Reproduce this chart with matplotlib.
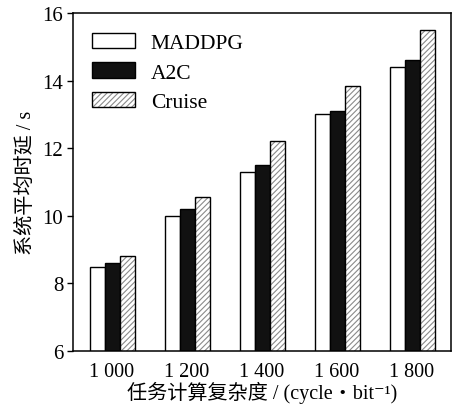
import matplotlib
matplotlib.use("Agg")
import matplotlib.pyplot as plt
import numpy as np
from matplotlib.patches import Patch

# task complexity groups and mean system delay for each method
complexity = ["1 000", "1 200", "1 400", "1 600", "1 800"]
maddpg = [8.5, 10.0, 11.3, 13.0, 14.4]
a2c = [8.6, 10.2, 11.5, 13.1, 14.6]
cruise = [8.8, 10.55, 12.2, 13.85, 15.5]

plt.rcParams["font.family"] = ["Liberation Serif", "Noto Sans CJK SC", "DejaVu Serif"]
plt.rcParams["hatch.linewidth"] = 0.8

fig = plt.figure(figsize=(4.54, 4.10), dpi=100)
ax = fig.add_axes([73 / 454, 1 - 352 / 410, 378 / 454, 338 / 410])

x = np.arange(len(complexity))
w = 0.2
ax.bar(x - w, maddpg, w, color="white", edgecolor="black", linewidth=1.0)
ax.bar(x, a2c, w, color="#111111", edgecolor="black", linewidth=1.0)
# hatched bars: gray diagonal fill, then a black outline on top
ax.bar(x + w, cruise, w, color="white", edgecolor="#8a8a8a", hatch="//////", linewidth=0)
ax.bar(x + w, cruise, w, fill=False, edgecolor="black", linewidth=1.0)

ax.set_xlim(-0.52, 4.52)
ax.set_ylim(6, 16)
ax.set_yticks([6, 8, 10, 12, 14, 16])
ax.set_xticks(x)
ax.set_xticklabels(complexity)
ax.tick_params(axis="y", direction="out", length=4, width=1.0, labelsize=15, pad=3)
ax.tick_params(axis="x", length=0, labelsize=14.5, pad=8)
for s in ax.spines.values():
    s.set_linewidth(1.1)

ax.set_ylabel("系统平均时延 / s", fontsize=14.5, labelpad=5)
ax.set_xlabel("任务计算复杂度 / (cycle・bit⁻¹)", fontsize=14.5, labelpad=0)

h_white = Patch(facecolor="white", edgecolor="black", linewidth=1.0)
h_black = Patch(facecolor="#111111", edgecolor="black", linewidth=1.0)
h_hatch = Patch(facecolor="white", edgecolor="#8a8a8a", hatch="//////", linewidth=0)
h_edge = Patch(fill=False, edgecolor="black", linewidth=1.0)
ax.legend([h_white, h_black, (h_hatch, h_edge)], ["MADDPG", "A2C", "Cruise"],
          loc="upper left", bbox_to_anchor=(0.015, 0.978), frameon=False,
          fontsize=15.5, handlelength=2.0, handleheight=0.7, labelspacing=0.42,
          handletextpad=0.75, borderaxespad=0.2)

fig.savefig("out.png", dpi=100)
